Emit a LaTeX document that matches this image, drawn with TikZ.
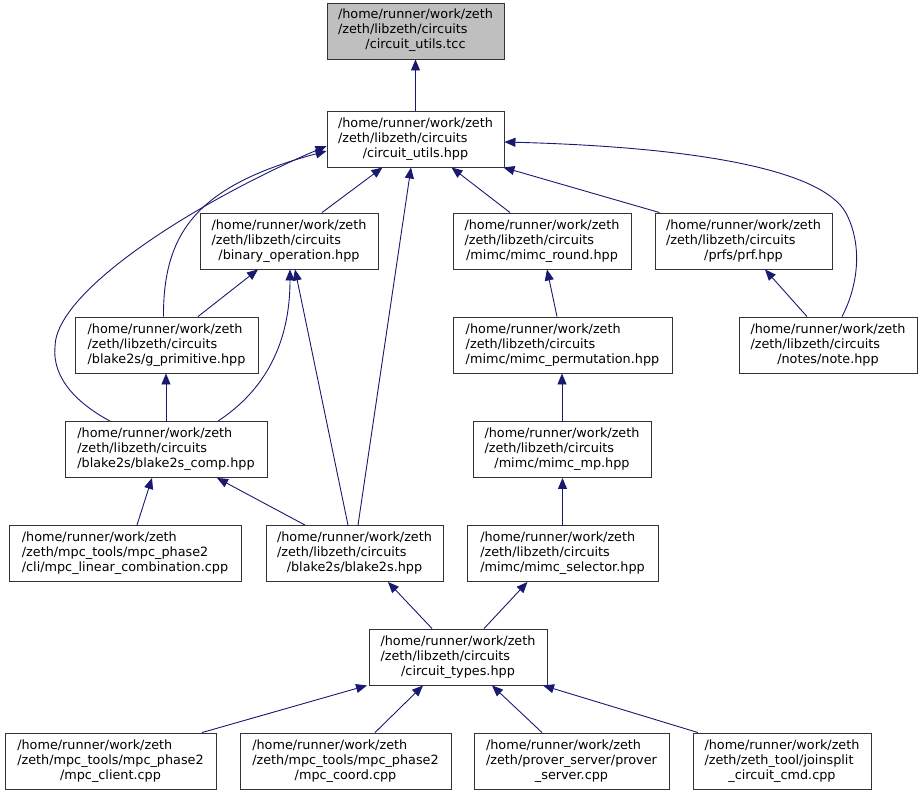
\documentclass[tikz,border=0pt]{standalone}
\usepackage{fontspec}
\setmainfont{DejaVu Sans}
\usetikzlibrary{arrows.meta}
\definecolor{edgeblue}{HTML}{191970}
\newcommand\flines[3]{\begin{tabular}{@{}l@{}}#1\\#2\\\multicolumn{1}{@{}c@{}}{#3}\end{tabular}}
\begin{document}
\begin{tikzpicture}[x=1pt,y=-1pt,
                    file/.style={draw=black!80,line width=.9pt,inner sep=0pt,
                                 minimum height=56pt,font=\fontsize{12.8}{15}\selectfont},
                    dep/.style={draw=edgeblue,line width=.9pt,-{Triangle[length=11pt,width=9pt]},
                                edgeblue}]
 \useasboundingbox (0,0) rectangle (922,795);
 \node[file,fill=black!25,minimum width=177pt] (tcc) at (415.5,31)
   {\flines{/home/runner/work/zeth}{/zeth/libzeth/circuits}{/circuit\_utils.tcc}};
 \node[file,minimum width=177pt] (utils) at (415.5,139)
   {\flines{/home/runner/work/zeth}{/zeth/libzeth/circuits}{/circuit\_utils.hpp}};
 \node[file,minimum width=178pt] (binop) at (289,241)
   {\flines{/home/runner/work/zeth}{/zeth/libzeth/circuits}{/binary\_operation.hpp}};
 \node[file,minimum width=178pt] (mround) at (542,241)
   {\flines{/home/runner/work/zeth}{/zeth/libzeth/circuits}{/mimc/mimc\_round.hpp}};
 \node[file,minimum width=177pt] (prf) at (743.5,241)
   {\flines{/home/runner/work/zeth}{/zeth/libzeth/circuits}{/prfs/prf.hpp}};
 \node[file,minimum width=183pt] (gprim) at (166.5,345)
   {\flines{/home/runner/work/zeth}{/zeth/libzeth/circuits}{/blake2s/g\_primitive.hpp}};
 \node[file,minimum width=219pt] (mperm) at (562.5,345)
   {\flines{/home/runner/work/zeth}{/zeth/libzeth/circuits}{/mimc/mimc\_permutation.hpp}};
 \node[file,minimum width=178pt] (note) at (828,345)
   {\flines{/home/runner/work/zeth}{/zeth/libzeth/circuits}{/notes/note.hpp}};
 \node[file,minimum width=202pt] (bcomp) at (166,449.5)
   {\flines{/home/runner/work/zeth}{/zeth/libzeth/circuits}{/blake2s/blake2s\_comp.hpp}};
 \node[file,minimum width=178pt] (mmp) at (562,449.5)
   {\flines{/home/runner/work/zeth}{/zeth/libzeth/circuits}{/mimc/mimc\_mp.hpp}};
 \node[file,minimum width=232pt] (mlin) at (125,553.5)
   {\flines{/home/runner/work/zeth}{/zeth/mpc\_tools/mpc\_phase2}{/cli/mpc\_linear\_combination.cpp}};
 \node[file,minimum width=177pt] (blake) at (354.5,553.5)
   {\flines{/home/runner/work/zeth}{/zeth/libzeth/circuits}{/blake2s/blake2s.hpp}};
 \node[file,minimum width=191pt] (msel) at (562.5,553.5)
   {\flines{/home/runner/work/zeth}{/zeth/libzeth/circuits}{/mimc/mimc\_selector.hpp}};
 \node[file,minimum width=178pt] (types) at (458,657)
   {\flines{/home/runner/work/zeth}{/zeth/libzeth/circuits}{/circuit\_types.hpp}};
 \node[file,minimum width=211pt] (client) at (110.5,761)
   {\flines{/home/runner/work/zeth}{/zeth/mpc\_tools/mpc\_phase2}{/mpc\_client.cpp}};
 \node[file,minimum width=211pt] (coord) at (345.5,761)
   {\flines{/home/runner/work/zeth}{/zeth/mpc\_tools/mpc\_phase2}{/mpc\_coord.cpp}};
 \node[file,minimum width=195pt] (prover) at (571.5,761)
   {\flines{/home/runner/work/zeth}{/zeth/prover\_server/prover}{\_server.cpp}};
 \node[file,minimum width=178pt] (joinsplit) at (782,761)
   {\flines{/home/runner/work/zeth}{/zeth/zeth\_tool/joinsplit}{\_circuit\_cmd.cpp}};
 \draw[dep] (utils.north) -- (tcc.south);
 \draw[dep] ([xshift=33]binop.north) -- ([xshift=-33]utils.south);
 \draw[dep] ([xshift=-32]mround.north) -- ([xshift=36]utils.south);
 \draw[dep] ([xshift=-84]prf.north) -- ([xshift=-1]utils.south east);
 \draw[dep] ([xshift=-3]gprim.north) .. controls (163,230) and (200,185) .. ([yshift=-12]utils.west);
 \draw[dep] ([xshift=-56]bcomp.north) .. controls (80,405) and (52,380) .. (55,347)
   .. controls (55,290) and (200,200) .. ([yshift=-7]utils.west);
 \draw[dep] ([xshift=3.5]blake.north) -- ([xshift=-4.5]utils.south);
 \draw[dep] ([xshift=14]note.north) .. controls (856,290) and (864,250) .. (847,215)
   .. controls (822,163) and (660,146) .. ([yshift=-3]utils.east);
 \draw[dep] ([xshift=31.5]gprim.north) -- ([xshift=-31]binop.south);
 \draw[dep] ([xshift=52]bcomp.north) .. controls (250,400) and (290,360) .. ([xshift=1]binop.south);
 \draw[dep] ([xshift=-6.5]blake.north) -- ([xshift=6]binop.south);
 \draw[dep] (bcomp.north) -- (bcomp.north |- gprim.south);
 \draw[dep] ([xshift=-5.5]mperm.north) -- ([xshift=5]mround.south);
 \draw[dep] ([xshift=-21]note.north) -- ([xshift=21.5]prf.south);
 \draw[dep] ([xshift=12]mlin.north) -- ([xshift=-14]bcomp.south);
 \draw[dep] ([xshift=-49.5]blake.north) -- ([xshift=51]bcomp.south);
 \draw[dep] (mmp.north) -- (mmp.north |- mperm.south);
 \draw[dep] (msel.north) -- (msel.north |- mmp.south);
 \draw[dep] ([xshift=-26]types.north) -- ([xshift=33.5]blake.south);
 \draw[dep] ([xshift=26]types.north) -- ([xshift=-35]msel.south);
 \draw[dep] ([xshift=91.5]client.north) -- ([xshift=-91]types.south);
 \draw[dep] ([xshift=29.5]coord.north) -- ([xshift=-35]types.south);
 \draw[dep] ([xshift=-29.5]prover.north) -- ([xshift=34]types.south);
 \draw[dep] ([xshift=-84]joinsplit.north) -- ([xshift=85]types.south);
\end{tikzpicture}
\end{document}
